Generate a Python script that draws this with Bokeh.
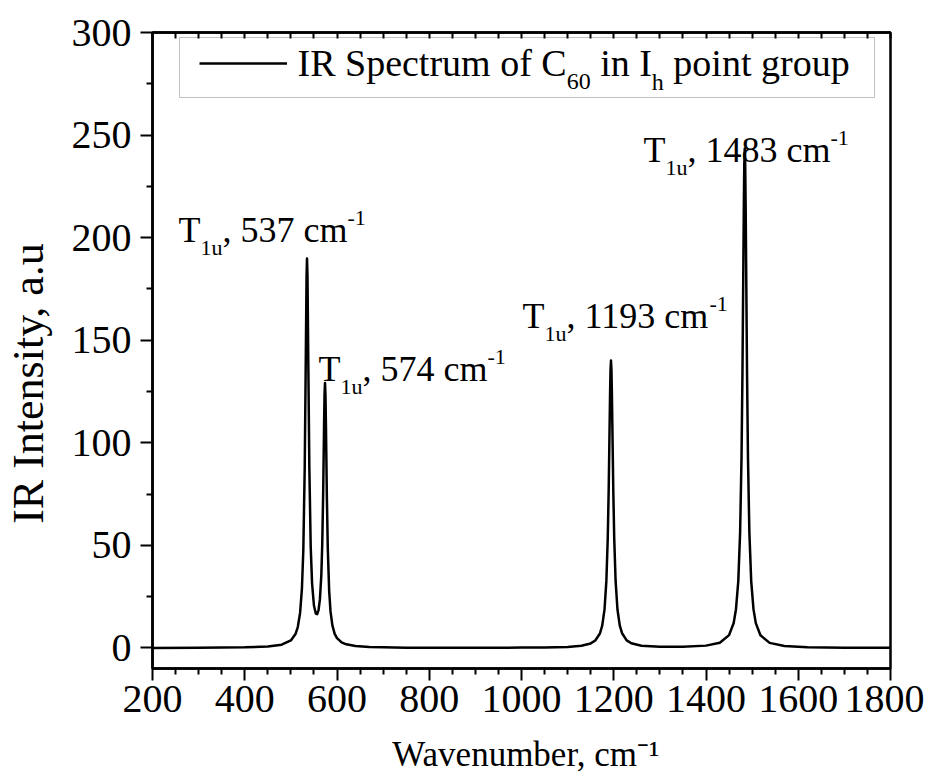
from bokeh.plotting import figure
from bokeh.models import LinearAxis, FixedTicker, Label, BoxAnnotation, Legend, LegendItem
from bokeh.embed import file_html
from bokeh.resources import INLINE

# ---------------- data ----------------
wavenumber = [200, 300, 400, 450, 480, 500, 510, 515, 520, 524,
              527, 530, 532, 534, 535, 536, 538, 540, 543, 546,
              550, 554, 557, 560, 563, 566, 568, 570, 572, 573,
              574, 575, 576, 578, 580, 583, 586, 590, 595, 600,
              610, 620, 640, 670, 700, 750, 800, 900, 1000, 1050,
              1100, 1130, 1150, 1160, 1170, 1175, 1180, 1184, 1187, 1189,
              1191, 1192, 1193, 1194, 1195, 1196, 1197, 1199, 1201, 1204,
              1208, 1213, 1218, 1228, 1238, 1260, 1300, 1350, 1400, 1430,
              1450, 1460, 1465, 1470, 1474, 1477, 1479, 1481, 1482, 1483,
              1484, 1485, 1486, 1487, 1489, 1491, 1494, 1498, 1503, 1508,
              1518, 1538, 1570, 1620, 1700, 1800]
intensity = [0.05, 0.11, 0.31, 0.72, 1.6, 3.7, 6.8, 10.2, 17.1, 29.1,
             47.9, 87.6, 133.5, 181.3, 189.8, 181.4, 134.0, 88.4, 49.4, 31.3,
             20.7, 16.8, 16.5, 18.5, 23.8, 35.5, 50.4, 75.2, 109.3, 123.6,
             129.2, 123.3, 108.8, 74.1, 48.8, 27.9, 17.7, 11.0, 6.9, 4.8,
             2.7, 1.8, 0.97, 0.51, 0.31, 0.17, 0.14, 0.11, 0.18, 0.26,
             0.53, 1.09, 2.22, 3.65, 7.07, 10.9, 18.8, 32.7, 53.5, 76.8,
             108.0, 123.6, 135.5, 140.1, 135.6, 123.7, 108.1, 76.9, 53.6, 32.8,
             18.9, 11.0, 7.2, 3.7, 2.3, 1.13, 0.61, 0.60, 1.15, 2.57,
             6.26, 12.2, 18.9, 32.6, 56.6, 92.9, 133.3, 187.6, 215.0, 235.6,
             243.4, 235.6, 215.0, 187.6, 133.3, 92.9, 56.6, 32.6, 18.8, 12.1,
             6.2, 2.5, 0.99, 0.40, 0.16, 0.07]

peak_wavenumbers = ["537", "574", "1193", "1483"]
x_major = [200, 400, 600, 800, 1000, 1200, 1400, 1600, 1800]
x_minor = [250, 300, 350, 450, 500, 550, 650, 700, 750, 850, 900, 950,
           1050, 1100, 1150, 1250, 1300, 1350, 1450, 1500, 1550, 1650, 1700, 1750]
y_major = [0, 50, 100, 150, 200, 250, 300]
y_minor = [25, 75, 125, 175, 225, 275]

x_title = "\u00a0Wavenumber, cm\u207b\u00b9"
y_title = "IR Intensity, a.u" + "\u00a0" * 6

# ---------------- layout ----------------
FONT = "Liberation Serif"
W, H = 924, 778
FL, FR, FT, FB = 152, 890, 32, 668      # frame edges in page pixels
X0, X1, Y0, Y1 = 200, 1800, -10, 300

p = figure(width=W, height=H, x_range=(X0, X1), y_range=(Y0, Y1),
           output_backend="svg", toolbar_location=None,
           min_border_left=FL, min_border_right=W - FR,
           min_border_top=FT, min_border_bottom=H - FB)
p.background_fill_color = "white"
p.border_fill_color = "white"
p.xgrid.visible = False
p.ygrid.visible = False
p.outline_line_color = "black"
p.outline_line_width = 2.5
p.outline_line_alpha = 1.0


def style_axis(ax, major, minor, tin, tout, mtin, mtout):
    ax.ticker = FixedTicker(ticks=major, minor_ticks=minor)
    ax.axis_line_color = "black"
    ax.axis_line_width = 2.5
    ax.major_tick_line_color = "black"
    ax.minor_tick_line_color = "black"
    ax.major_tick_line_width = 2
    ax.minor_tick_line_width = 2
    ax.major_tick_in = tin
    ax.major_tick_out = tout
    ax.minor_tick_in = mtin
    ax.minor_tick_out = mtout
    ax.major_label_text_font = FONT
    ax.major_label_text_font_size = "40px"
    ax.major_label_text_color = "black"
    ax.axis_label_text_font = FONT
    ax.axis_label_text_font_style = "normal"
    ax.axis_label_text_color = "black"


xa = p.xaxis[0]
style_axis(xa, x_major, x_minor, 0, 12, 0, 6)
xa.major_label_standoff = 5
xa.axis_label = x_title
xa.axis_label_text_font_size = "35px"
xa.axis_label_standoff = 20

ya = p.yaxis[0]
style_axis(ya, y_major, y_minor, 0, 12, 0, 6)
ya.major_label_standoff = 9
ya.axis_label = y_title
ya.axis_label_text_font_size = "44px"
ya.axis_label_standoff = 16

top = LinearAxis()
style_axis(top, x_major, x_minor, 6, 0, 6, 0)
top.major_label_overrides = {t: "" for t in x_major}
top.major_label_text_font_size = "1px"
top.major_label_standoff = 0
p.add_layout(top, "above")

r = p.line(wavenumber, intensity, line_color="black", line_width=2.5, line_join="round")

# ---------------- helpers for positioned text ----------------
ADV = {' ': 250, ',': 250, '-': 333, '.': 250, 'T': 611, 'C': 667, 'I': 333, 'R': 667,
       'S': 556, 'W': 944, 'p': 500, 'e': 444, 'c': 444, 't': 278, 'r': 333, 'u': 500,
       'm': 778, 'o': 500, 'f': 333, 'i': 278, 'n': 500, 'h': 500, 'g': 500, 'a': 444,
       'v': 500, 'b': 500, 'y': 500, 's': 389}
BASE_FIX = 0.37   # measured drift of the rendered baseline, in em


def tw(s, fs):
    return sum(ADV.get(c, 500) for c in s) * fs / 1000.0


def dx(X):
    return X0 + (X - FL) * (X1 - X0) / (FR - FL)


def dy(Y):
    return Y1 - (Y - FT) * (Y1 - Y0) / (FB - FT)


def rich(X, Yb, parts, fs=36, small=22, sub=12, sup=17):
    x = X
    for txt, kind in parts:
        s = fs if kind == "n" else small
        yoff = 0 if kind == "n" else (sub if kind == "sub" else -sup)
        lead = len(txt) - len(txt.lstrip())
        x += tw(txt[:lead], s)
        t = txt.lstrip()
        p.add_layout(Label(x=dx(x), y=dy(Yb + yoff - BASE_FIX * s), text=t, text_font=FONT,
                           text_font_size=f"{s}px", text_baseline="alphabetic",
                           text_align="left", text_color="black"))
        x += tw(t, s)


# peak annotations
ann_pos = [(178, 243), (318, 382), (522, 329), (643, 163)]
for num, (ax_, ay_) in zip(peak_wavenumbers, ann_pos):
    rich(ax_, ay_, [("T", "n"), ("1u", "sub"), (f", {num} cm", "n"), ("-1", "sup")])

# legend
p.add_layout(BoxAnnotation(left=dx(179), right=dx(874), top=dy(37), bottom=dy(97),
                           fill_alpha=0, line_color="#333333", line_width=1))
leg = Legend(items=[LegendItem(label=" ", renderers=[r])], location=(47, FB - 73),
             padding=0, margin=0, spacing=0, glyph_width=88, glyph_height=20,
             label_height=20, label_width=0, label_standoff=0,
             border_line_alpha=0, background_fill_alpha=0, label_text_font_size="10px")
p.add_layout(leg, "center")
rich(297, 77, [("IR Spectrum of C", "n"), ("60", "sub"), (" in I", "n"), ("h", "sub"),
               (" point group", "n")], fs=38, small=24, sub=13)

open("out.html", "w").write(file_html(p, INLINE))
